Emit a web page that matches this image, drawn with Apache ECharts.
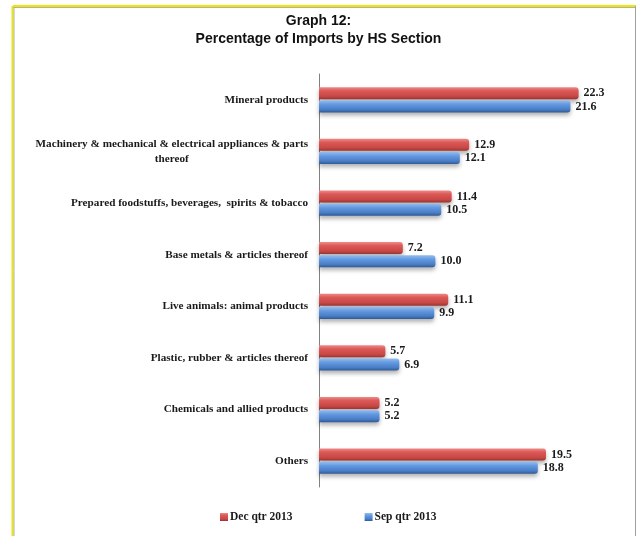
<!DOCTYPE html>
<html>
<head>
<meta charset="utf-8">
<script src="https://cdn.jsdelivr.net/npm/echarts@6/dist/echarts.min.js"></script>
<style>
  html, body { margin: 0; padding: 0; background: #fff; }
  #main { width: 637px; height: 536px; }
</style>
</head>
<body>
<div id="main"></div>
<script>
// HS sections, top to bottom
const categories = [
  'Mineral products',
  'Machinery & mechanical & electrical appliances & parts\nthereof',
  'Prepared foodstuffs, beverages,  spirits & tobacco',
  'Base metals & articles thereof',
  'Live animals: animal products',
  'Plastic, rubber & articles thereof',
  'Chemicals and allied products',
  'Others'
];
const decQtr = [22.3, 12.9, 11.4, 7.2, 11.1, 5.7, 5.2, 19.5]; // Dec qtr 2013
const sepQtr = [21.6, 12.1, 10.5, 10.0, 9.9, 6.9, 5.2, 18.8]; // Sep qtr 2013
const seriesNames = ['Dec qtr 2013', 'Sep qtr 2013'];

const serif = '"Liberation Serif", "DejaVu Serif", serif';

// cylinder look
function grad(stops) {
  return new echarts.graphic.LinearGradient(0, 0, 0, 1, stops.map(c => ({ offset: c[0], color: c[1] })));
}
const redGrad = grad([[0, '#EE8A88'], [0.3, '#DB5957'], [0.75, '#C84846'], [1, '#9A3331']]);
const blueGrad = grad([[0, '#94BCEE'], [0.35, '#6198DF'], [0.75, '#4A7EC6'], [1, '#2F5A96']]);

function barSeries(name, data, color) {
  return {
    name: name,
    type: 'bar',
    data: data,
    barWidth: 12,
    barGap: '10%',
    itemStyle: {
      color: color,
      borderRadius: [0, 3, 3, 0],
      shadowColor: 'rgba(0,0,0,0.3)',
      shadowBlur: 4,
      shadowOffsetY: 3
    },
    label: {
      show: true,
      position: 'right',
      distance: 5,
      formatter: p => p.value.toFixed(1),
      fontFamily: serif,
      fontWeight: 'bold',
      fontSize: 12,
      color: '#1a1a1a'
    }
  };
}

const chart = echarts.init(document.getElementById('main'));
chart.setOption({
  animation: false,
  title: {
    text: 'Graph 12:\nPercentage of Imports by HS Section',
    left: 'center',
    top: 7,
    textStyle: {
      fontFamily: '"Liberation Sans", Arial, sans-serif',
      fontWeight: 'bold',
      fontSize: 14,
      lineHeight: 18,
      color: '#111'
    }
  },
  legend: {
    bottom: 8,
    left: 215,
    itemGap: 72,
    itemWidth: 8,
    itemHeight: 8,
    icon: 'rect',
    data: seriesNames,
    textStyle: { fontFamily: serif, fontWeight: 'bold', fontSize: 11.5, color: '#1a1a1a', padding: [0, 0, 0, -3] }
  },
  grid: { left: 319, right: 27, top: 74, bottom: 49, containLabel: false },
  xAxis: {
    type: 'value',
    min: 0,
    max: 25,
    show: false
  },
  yAxis: {
    type: 'category',
    inverse: true,
    data: categories,
    axisLine: { show: true, lineStyle: { color: '#808080', width: 1 } },
    axisTick: { show: false },
    axisLabel: {
      margin: 11,
      formatter: v => v.split('\n').map(s => '{c|' + s + '}').join('\n'),
      rich: {
        c: { align: 'center', fontFamily: serif, fontWeight: 'bold', fontSize: 11.2, color: '#1a1a1a', lineHeight: 15 }
      }
    }
  },
  series: [
    barSeries(seriesNames[0], decQtr, redGrad),
    barSeries(seriesNames[1], sepQtr, blueGrad)
  ],
  graphic: [
    { type: 'line', shape: { x1: 13, y1: 6, x2: 636, y2: 6 }, style: { stroke: '#F2E500', lineWidth: 2 } },
    { type: 'line', shape: { x1: 13, y1: 7.5, x2: 635, y2: 7.5 }, style: { stroke: '#B0B0B0', lineWidth: 1 } },
    { type: 'line', shape: { x1: 12.5, y1: 6, x2: 12.5, y2: 536 }, style: { stroke: '#F2E500', lineWidth: 2 } },
    { type: 'line', shape: { x1: 14, y1: 7, x2: 14, y2: 536 }, style: { stroke: '#B0B0B0', lineWidth: 1 } },
    { type: 'line', shape: { x1: 635.5, y1: 6, x2: 635.5, y2: 536 }, style: { stroke: '#A0A0A0', lineWidth: 1 } }
  ]
});
</script>
</body>
</html>
